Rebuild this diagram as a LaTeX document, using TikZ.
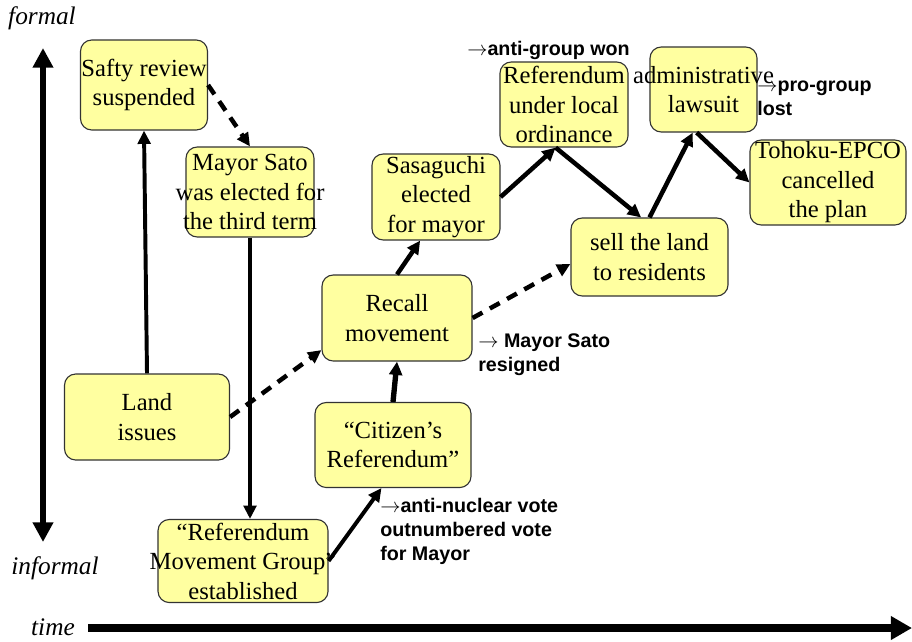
\documentclass[tikz,border=0pt]{standalone}
\usepackage{fontspec}
\setmainfont{Liberation Serif}
\setsansfont{Liberation Sans}
\usetikzlibrary{arrows.meta}
\definecolor{boxyellow}{RGB}{255,255,160}
\newcommand{\outto}{\ensuremath{\rightarrow}}

\begin{document}
\begin{tikzpicture}[x=0.025cm, y=-0.025cm,
    event/.style={draw=black!80, line width=0.8pt, fill=boxyellow, rounded corners=8pt,
        align=center, inner sep=0pt, font=\fontsize{17.5}{21}\selectfont},
    note/.style={anchor=west, align=left, inner sep=0pt,
        font=\sffamily\bfseries\fontsize{14}{17}\selectfont},
    axislabel/.style={inner sep=0pt, font=\itshape\fontsize{18}{21}\selectfont},
    axis/.style={line width=4.5pt},
    link/.style={line width=2.8pt, -{Triangle[length=9.5pt,width=9pt]}},
    maybe/.style={link, line width=3.2pt, dash pattern=on 8pt off 6pt}]
    \useasboundingbox (0,0) rectangle (912,641);

    % axes
    \coordinate (ftop) at (43,48);
    \coordinate (fbot) at (43,542);
    \coordinate (tstart) at (88,628);
    \coordinate (tend) at (912,628);
    \draw[axis, {Triangle[length=14pt,width=14pt]}-{Triangle[length=14pt,width=14pt]}] (ftop) -- (fbot);
    \draw[axis, line width=5.5pt, -{Triangle[length=15pt,width=16pt]}] (tstart) -- (tend);
    \node[axislabel] (formal) at (42,18) {formal};
    \node[axislabel] (informal) at (55,568) {informal};
    \node[axislabel] (time) at (53,627) {time};

    % events
    \node[event, minimum width=3.175cm, minimum height=2.25cm] (safty) at (144,85) {Safty review\\suspended};
    \node[event, minimum width=3.2cm, minimum height=2.25cm] (sato) at (250,192) {Mayor Sato\\\makebox[0pt]{was elected for}\\\makebox[0pt]{the third term}};
    \node[event, minimum width=4.125cm, minimum height=2.15cm] (land) at (147,417) {Land\\issues};
    \node[event, minimum width=4.25cm, minimum height=2.075cm] (rmg) at (243,561) {“Referendum\\\makebox[0pt]{Movement Group”}\\established};
    \node[event, minimum width=3.9cm, minimum height=2.125cm] (citizen) at (393,445) {“Citizen’s\\Referendum”};
    \node[event, minimum width=3.75cm, minimum height=2.15cm] (recall) at (397,318) {Recall\\movement};
    \node[event, minimum width=3.2cm, minimum height=2.15cm] (sasaguchi) at (436,197) {Sasaguchi\\elected\\for mayor};
    \node[event, minimum width=3.2cm, minimum height=2.125cm] (referendum) at (564,104.5) {\makebox[0pt]{Referendum}\\under local\\ordinance};
    \node[event, minimum width=3.925cm, minimum height=1.95cm] (sell) at (649.5,257) {sell the land\\to residents};
    \node[event, minimum width=2.675cm, minimum height=2.125cm] (admin) at (703.5,89.5) {\makebox[0pt]{administrative}\\lawsuit};
    \node[event, minimum width=3.9cm, minimum height=2.125cm] (tohoku) at (828,182.5) {Tohoku-EPCO\\cancelled\\the plan};

    % outcomes
    \node[note] (won) at (467,50) {\outto anti-group won};
    \node[note] (lost) at (757,98) {\outto pro-group\\lost};
    \node[note] (resigned) at (478,355) {\outto\ Mayor Sato\\resigned};
    \node[note] (vote) at (380,531) {\outto anti-nuclear vote\\outnumbered vote\\for Mayor};

    % links
    \draw[link] (land.north) -- (safty.south);
    \draw[maybe] (safty.east) -- (sato.north);
    \draw[link, line width=2.4pt] (sato.south) -- (sato.south |- rmg.north);
    \draw[maybe] (land.east) -- (recall.203);
    \draw[link] (rmg.east) -- (citizen.255);
    \draw[link, line width=3.8pt] (citizen.north) -- (recall.south);
    \draw[link, line width=3.2pt] (recall.north) -- (sasaguchi.250);
    \draw[maybe] (recall.east) -- (sell.185);
    \draw[link, line width=3.2pt] (sasaguchi.east) -- (referendum.259);
    \draw[link, line width=3.2pt] (referendum.259) -- (sell.102);
    \draw[link, line width=3.2pt] (sell.north) -- (admin.256);
    \draw[link, line width=3.2pt] (admin.261) -- (tohoku.west);
\end{tikzpicture}
\end{document}
